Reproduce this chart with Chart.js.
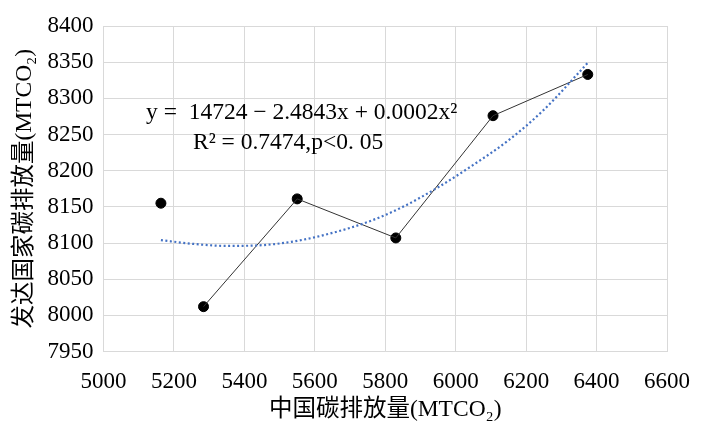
<!DOCTYPE html>
<html>
<head>
<meta charset="utf-8">
<script src="https://cdn.jsdelivr.net/npm/chart.js@4"></script>
<style>
  body { margin: 0; background: #fff; }
  #wrap { width: 702px; height: 424px; }
</style>
</head>
<body>
<div id="wrap"><canvas id="carbonChart" width="702" height="424"></canvas></div>
<script>
// China emissions (x) vs developed countries emissions (y), MTCO2
var chinaEmission = [5163, 5284, 5550, 5830, 6106, 6375];
var developedEmission = [8155, 8012, 8161, 8107, 8276, 8333];
// the connecting line skips the first point
var lineStart = 1;

// quadratic trend line
var trendX = [5163, 5250, 5350, 5450, 5550, 5650, 5750, 5850, 5950, 6050, 6150, 6250, 6375];
var trendY = [8104, 8099, 8096, 8097, 8103, 8114, 8129, 8150, 8177, 8208, 8242, 8284, 8349];

var xTicks = [5000, 5200, 5400, 5600, 5800, 6000, 6200, 6400, 6600];
var yTicks = [7950, 8000, 8050, 8100, 8150, 8200, 8250, 8300, 8350, 8400];

var eqText = 'y =  14724 \u2212 2.4843x + 0.0002x\u00b2';
var r2Text = 'R\u00b2 = 0.7474,p<0. 05';
var xTitle = '中国碳排放量(MTCO\u2082)';
var yTitle = '发达国家碳排放量(MTCO\u2082)';

var serif = '"Liberation Serif", "Times New Roman", "Noto Sans CJK SC", serif';

function toPoints(xs, ys) {
  return xs.map(function(x, i) { return { x: x, y: ys[i] }; });
}

var eqPlugin = {
  id: 'equation',
  afterDatasetsDraw: function(chart) {
    var c = chart.ctx;
    c.save();
    c.fillStyle = '#000';
    c.font = '23.5px ' + serif;
    c.textBaseline = 'middle';
    c.fillText(eqText, 146, 113);
    c.fillText(r2Text, 193, 143);
    c.restore();
  }
};

var ctx = document.getElementById('carbonChart').getContext('2d');
var carbonChart = new Chart(ctx, {
  type: 'scatter',
  data: {
    datasets: [{
      label: 'trend',
      data: toPoints(trendX, trendY),
      showLine: true,
      borderColor: '#4472C4',
      borderWidth: 2.2,
      borderDash: [2, 2.5],
      pointRadius: 0,
      tension: 0.4,
      cubicInterpolationMode: 'monotone'
    }, {
      label: 'line',
      data: toPoints(chinaEmission.slice(lineStart), developedEmission.slice(lineStart)),
      showLine: true,
      borderColor: '#333',
      borderWidth: 1,
      pointRadius: 0
    }, {
      label: 'points',
      data: toPoints(chinaEmission, developedEmission),
      backgroundColor: '#000',
      borderColor: '#000',
      pointRadius: 5
    }]
  },
  options: {
    responsive: false,
    animation: false,
    layout: { padding: { left: 0, right: 35, top: 26, bottom: 0 } },
    plugins: {
      legend: { display: false },
      tooltip: { enabled: false }
    },
    scales: {
      x: {
        type: 'linear',
        min: 5000,
        max: 6600,
        afterBuildTicks: function(scale) {
          scale.ticks = xTicks.map(function(v) { return { value: v }; });
        },
        afterFit: function(scale) {
          scale.height = 72.5;
          scale.paddingLeft = 0;
          scale.paddingRight = 0;
        },
        grid: { color: '#d9d9d9', drawTicks: false },
        border: { color: '#d9d9d9' },
        ticks: {
          padding: 17,
          color: '#000',
          font: { family: serif, size: 23 },
          maxRotation: 0,
          callback: function(v) { return String(v); }
        },
        title: {
          display: true,
          text: xTitle,
          color: '#000',
          font: { family: serif, size: 23.5 },
          padding: { top: 0, bottom: 0 }
        }
      },
      y: {
        type: 'linear',
        min: 7950,
        max: 8400,
        afterBuildTicks: function(scale) {
          scale.ticks = yTicks.map(function(v) { return { value: v }; });
        },
        afterFit: function(scale) {
          scale.width = 103.5;
          scale.paddingTop = 0;
          scale.paddingBottom = 0;
        },
        grid: { color: '#d9d9d9', drawTicks: false },
        border: { color: '#d9d9d9' },
        ticks: {
          padding: 10,
          color: '#000',
          font: { family: serif, size: 23 },
          callback: function(v) { return String(v); }
        },
        title: {
          display: true,
          text: yTitle,
          color: '#000',
          font: { family: serif, size: 23.5 },
          padding: { top: 11, bottom: 0 }
        }
      }
    }
  },
  plugins: [eqPlugin]
});
</script>
</body>
</html>
